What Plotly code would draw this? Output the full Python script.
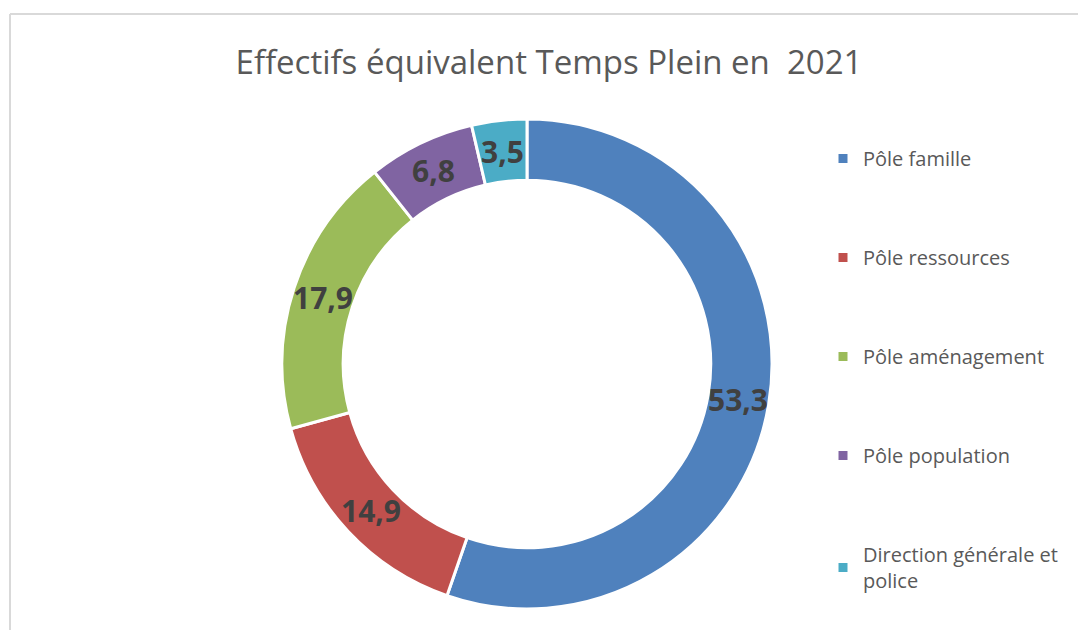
import math
import plotly.graph_objects as go

W, H = 1078, 630

title_text = "Effectifs équivalent Temps Plein en\u00a0 2021"
categories = ["Pôle famille", "Pôle ressources", "Pôle aménagement",
              "Pôle population", "Direction générale et<br>police"]
values = [53.3, 14.9, 17.9, 6.8, 3.5]
colors = ["#4F81BD", "#C0504D", "#9BBB59", "#8064A2", "#4BACC6"]

# donut geometry (pixels)
CX, CY, R_OUT, HOLE = 527, 364, 245, 0.75

fig = go.Figure()

fig.add_trace(go.Pie(
    labels=categories,
    values=values,
    sort=False,
    direction="clockwise",
    rotation=0,
    hole=HOLE,
    marker=dict(colors=colors, line=dict(color="white", width=3)),
    textinfo="none",
    hoverinfo="label+value",
    showlegend=False,
    domain=dict(x=[(CX - R_OUT) / W, (CX + R_OUT) / W],
                y=[1 - (CY + R_OUT) / H, 1 - (CY - R_OUT) / H]),
))

# data labels at each slice's mid angle, derived from the values
total = sum(values)
r_mid = R_OUT * (1 + HOLE) / 2
cum = 0.0
annotations = []
for v in values:
    mid = (cum + v / 2) / total * 2 * math.pi
    cum += v
    px = CX + r_mid * math.sin(mid)
    py = CY - r_mid * math.cos(mid)
    annotations.append(dict(
        x=px / W, y=1 - py / H, xref="paper", yref="paper",
        text=f"{v:.1f}".replace(".", ","), showarrow=False,
        xanchor="center", yanchor="middle",
        font=dict(family="Open Sans", size=30, color="#404040", weight="bold"),
    ))

# legend entries (one group each for spacing)
for i, (name, col) in enumerate(zip(categories, colors)):
    fig.add_trace(go.Scatter(
        x=[None], y=[None], mode="markers", name=name,
        marker=dict(symbol="square", size=9, color=col),
        legendgroup=f"g{i}", showlegend=True,
    ))

fig.update_layout(
    width=W, height=H,
    margin=dict(l=0, r=0, t=0, b=0),
    paper_bgcolor="white",
    plot_bgcolor="white",
    separators=", ",
    title=dict(text=title_text, x=549 / W, xanchor="center",
               y=1 - 62 / H, yanchor="middle",
               font=dict(family="Open Sans", size=33, color="#595959")),
    xaxis=dict(visible=False),
    yaxis=dict(visible=False),
    annotations=annotations,
    legend=dict(x=823 / W, xanchor="left", y=1 - 139 / H, yanchor="top",
                font=dict(family="Open Sans", size=20, color="#595959"),
                tracegroupgap=70, bgcolor="rgba(0,0,0,0)",
                itemclick=False),
    shapes=[
        dict(type="line", xref="paper", yref="paper",
             x0=10 / W, x1=1.0, y0=1 - 14 / H, y1=1 - 14 / H,
             line=dict(color="#D9D9D9", width=2)),
        dict(type="line", xref="paper", yref="paper",
             x0=10 / W, x1=10 / W, y0=0, y1=1 - 14 / H,
             line=dict(color="#D9D9D9", width=2)),
    ],
)

fig.write_html("out.html", config={"displayModeBar": False},
               post_script="document.body.style.margin='0';")
